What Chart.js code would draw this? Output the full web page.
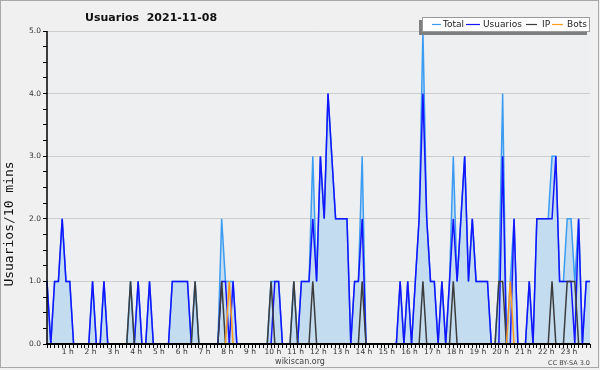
<!DOCTYPE html>
<html>
<head>
<meta charset="utf-8">
<script src="https://cdn.jsdelivr.net/npm/chart.js@4.4.0/dist/chart.umd.min.js"></script>
<style>
  body { margin: 0; background: #f0f0f0; }
  canvas { display: block; }
</style>
</head>
<body>
<canvas id="chart" width="600" height="370"></canvas>
<script>
// Hour tick labels (one category every 10 minutes, 144 per day)
const hourLabels = ["1 h", "2 h", "3 h", "4 h", "5 h", "6 h", "7 h", "8 h", "9 h", "10 h", "11 h", "12 h",
    "13 h", "14 h", "15 h", "16 h", "17 h", "18 h", "19 h", "20 h", "21 h", "22 h", "23 h"];
const minuteSlots = ["00", "10", "20", "30", "40", "50"];

// Values per 10 minutes, one row per hour
const total = [
    1, 0, 1, 1, 2, 1,   1, 0, 0, 0, 0, 0,   1, 0, 0, 1, 0, 0,   0, 0, 0, 0, 1, 0,
    1, 0, 0, 1, 0, 0,   0, 0, 0, 1, 1, 1,   1, 1, 0, 1, 0, 0,   0, 0, 0, 0, 2, 1,
    1, 1, 0, 0, 0, 0,   0, 0, 0, 0, 0, 1,   1, 1, 0, 0, 0, 1,   0, 1, 1, 1, 3, 1,
    3, 2, 4, 3, 2, 2,   2, 2, 0, 1, 1, 3,   0, 0, 0, 0, 0, 0,   0, 0, 0, 1, 0, 1,
    0, 1, 2, 5, 2, 1,   1, 0, 1, 0, 1, 3,   1, 2, 3, 1, 2, 1,   1, 1, 1, 0, 0, 1,
    4, 0, 1, 2, 0, 0,   0, 1, 0, 2, 2, 2,   2, 3, 3, 1, 1, 2,   2, 1, 2, 0, 1, 1
];
const usuarios = [
    1, 0, 1, 1, 2, 1,   1, 0, 0, 0, 0, 0,   1, 0, 0, 1, 0, 0,   0, 0, 0, 0, 0, 0,
    1, 0, 0, 1, 0, 0,   0, 0, 0, 1, 1, 1,   1, 1, 0, 0, 0, 0,   0, 0, 0, 0, 1, 1,
    0, 1, 0, 0, 0, 0,   0, 0, 0, 0, 0, 0,   1, 1, 0, 0, 0, 0,   0, 1, 1, 1, 2, 1,
    3, 2, 4, 3, 2, 2,   2, 2, 0, 1, 1, 2,   0, 0, 0, 0, 0, 0,   0, 0, 0, 1, 0, 1,
    0, 1, 2, 4, 2, 1,   1, 0, 1, 0, 1, 2,   1, 2, 3, 1, 2, 1,   1, 1, 1, 0, 0, 0,
    3, 0, 0, 2, 0, 0,   0, 1, 0, 2, 2, 2,   2, 2, 3, 1, 1, 1,   1, 0, 2, 0, 1, 1
];
const ip = [
    0, 0, 0, 0, 0, 0,   0, 0, 0, 0, 0, 0,   0, 0, 0, 0, 0, 0,   0, 0, 0, 0, 1, 0,
    0, 0, 0, 0, 0, 0,   0, 0, 0, 0, 0, 0,   0, 0, 0, 1, 0, 0,   0, 0, 0, 0, 1, 0,
    0, 0, 0, 0, 0, 0,   0, 0, 0, 0, 0, 1,   0, 0, 0, 0, 0, 1,   0, 0, 0, 0, 1, 0,
    0, 0, 0, 0, 0, 0,   0, 0, 0, 0, 0, 1,   0, 0, 0, 0, 0, 0,   0, 0, 0, 0, 0, 0,
    0, 0, 0, 1, 0, 0,   0, 0, 0, 0, 0, 1,   0, 0, 0, 0, 0, 0,   0, 0, 0, 0, 0, 1,
    1, 0, 0, 0, 0, 0,   0, 0, 0, 0, 0, 0,   0, 1, 0, 0, 0, 1,   1, 1, 0, 0, 0, 0
];
const bots = [
    0, 0, 0, 0, 0, 0,   0, 0, 0, 0, 0, 0,   0, 0, 0, 0, 0, 0,   0, 0, 0, 0, 0, 0,
    0, 0, 0, 0, 0, 0,   0, 0, 0, 0, 0, 0,   0, 0, 0, 0, 0, 0,   0, 0, 0, 0, 0, 0,
    1, 0, 0, 0, 0, 0,   0, 0, 0, 0, 0, 0,   0, 0, 0, 0, 0, 0,   0, 0, 0, 0, 0, 0,
    0, 0, 0, 0, 0, 0,   0, 0, 0, 0, 0, 0,   0, 0, 0, 0, 0, 0,   0, 0, 0, 0, 0, 0,
    0, 0, 0, 0, 0, 0,   0, 0, 0, 0, 0, 0,   0, 0, 0, 0, 0, 0,   0, 0, 0, 0, 0, 0,
    0, 0, 1, 0, 0, 0,   0, 0, 0, 0, 0, 0,   0, 0, 0, 0, 0, 0,   0, 0, 0, 0, 0, 0
];

const seriesNames = ["Total", "Usuarios", "IP", "Bots"];
const seriesColors = ["#3b9cf2", "#1414ff", "#3c3c3c", "#ff9a1c"];

// category for each 10 minute slot
const slots = [];
for (let h = 0; h < 24; h++) {
    minuteSlots.forEach(m => slots.push(h + ":" + m));
}

const FONT = "'DejaVu Sans', sans-serif";

// Background, axis lines and all the extra texts
const decorPlugin = {
    id: "decor",
    beforeDraw(chart) {
        const ctx = chart.ctx;
        const a = chart.chartArea;
        ctx.save();
        ctx.fillStyle = "#f0f0f0";
        ctx.fillRect(0, 0, chart.width, chart.height);
        ctx.fillStyle = "#edeff1";
        ctx.fillRect(a.left, a.top, a.right - a.left, a.bottom - a.top);
        ctx.restore();
    },
    afterDatasetsDraw(chart) {
        const ctx = chart.ctx;
        const a = chart.chartArea;
        ctx.save();
        ctx.strokeStyle = "#000";
        ctx.lineWidth = 1.5;
        ctx.beginPath();
        ctx.moveTo(a.left, a.top);
        ctx.lineTo(a.left, a.bottom);
        ctx.stroke();
        ctx.lineWidth = 2;
        ctx.beginPath();
        ctx.moveTo(a.left - 1, a.bottom);
        ctx.lineTo(a.right, a.bottom);
        ctx.stroke();
        ctx.restore();
    },
    afterDraw(chart) {
        const ctx = chart.ctx;
        ctx.save();

        // title
        ctx.fillStyle = "#111";
        ctx.font = "bold 11px " + FONT;
        ctx.textBaseline = "alphabetic";
        ctx.textAlign = "left";
        ctx.fillText("Usuarios  2021-11-08", 85, 21);

        // y axis title
        ctx.save();
        ctx.translate(10, 224);
        ctx.rotate(-Math.PI / 2);
        ctx.font = "13px 'DejaVu Sans Mono', monospace";
        ctx.textAlign = "center";
        ctx.textBaseline = "middle";
        ctx.fillStyle = "#111";
        ctx.fillText("Usuarios/10 mins", 0, 0);
        ctx.restore();

        // legend box with shadow
        ctx.fillStyle = "#7f7f7f";
        ctx.fillRect(419, 20, 168, 15);
        ctx.fillStyle = "#fff";
        ctx.fillRect(422, 17, 168, 15);
        ctx.strokeStyle = "#9a9a9a";
        ctx.lineWidth = 1;
        ctx.strokeRect(422.5, 17.5, 167, 14);

        const items = [
            { x1: 432, x2: 441, tx: 443 },
            { x1: 466, x2: 480, tx: 483 },
            { x1: 526, x2: 537, tx: 542 },
            { x1: 552, x2: 563, tx: 567 }
        ];
        ctx.font = "9px " + FONT;
        ctx.textBaseline = "middle";
        ctx.textAlign = "left";
        items.forEach((it, i) => {
            ctx.strokeStyle = seriesColors[i];
            ctx.lineWidth = 1.2;
            ctx.beginPath();
            ctx.moveTo(it.x1, 24.5);
            ctx.lineTo(it.x2, 24.5);
            ctx.stroke();
            ctx.fillStyle = "#222";
            ctx.fillText(seriesNames[i], it.tx, 25);
        });

        // footer
        ctx.fillStyle = "#444";
        ctx.font = "8px " + FONT;
        ctx.textAlign = "center";
        ctx.textBaseline = "alphabetic";
        ctx.fillText("wikiscan.org", 300, 364);
        ctx.font = "6.5px " + FONT;
        ctx.textAlign = "right";
        ctx.fillText("CC BY-SA 3.0", 590, 365);

        // outer frame
        ctx.strokeStyle = "#a8a8a8";
        ctx.lineWidth = 1;
        ctx.strokeRect(0.5, 0.5, 598, 367);
        ctx.restore();
    }
};

function lineSet(label, data, color, order, extra) {
    return Object.assign({
        label: label,
        data: data,
        borderColor: color,
        borderWidth: 1.5,
        pointRadius: 0,
        tension: 0,
        fill: false,
        order: order
    }, extra || {});
}

const ctx = document.getElementById("chart").getContext("2d");
new Chart(ctx, {
    type: "line",
    data: {
        labels: slots,
        datasets: [
            lineSet(seriesNames[0], total, seriesColors[0], 4, { fill: "origin", backgroundColor: "#c4dcf0" }),
            lineSet(seriesNames[1], usuarios, seriesColors[1], 3),
            lineSet(seriesNames[2], ip, seriesColors[2], 2),
            lineSet(seriesNames[3], bots, seriesColors[3], 1)
        ]
    },
    options: {
        responsive: false,
        animation: false,
        devicePixelRatio: 1,
        layout: { padding: { left: 0, right: 10, top: 31, bottom: 0 } },
        plugins: {
            legend: { display: false },
            title: { display: false },
            tooltip: { enabled: false }
        },
        scales: {
            x: {
                type: "category",
                offset: false,
                border: { display: false },
                grid: { drawOnChartArea: false, tickLength: 4, tickColor: "#000", tickWidth: 1 },
                ticks: {
                    autoSkip: false,
                    maxRotation: 0,
                    minRotation: 0,
                    padding: 0,
                    labelOffset: -2,
                    color: "#333",
                    font: { family: FONT, size: 7.5 },
                    callback: (val, idx) => (idx % 6 === 0 && idx > 0) ? hourLabels[idx / 6 - 1] : ""
                },
                afterFit: scale => { scale.height = 26; }
            },
            y: {
                min: 0,
                max: 5,
                border: { display: false },
                grid: {
                    color: c => (Number.isInteger(c.tick.value) && c.tick.value > 0) ? "#cdcdcd" : "rgba(0,0,0,0)",
                    tickColor: "#000",
                    tickLength: 4,
                    lineWidth: 1
                },
                ticks: {
                    stepSize: 0.25,
                    autoSkip: false,
                    padding: 2,
                    color: "#333",
                    font: { family: FONT, size: 7.5 },
                    callback: v => Number.isInteger(v) ? v.toFixed(1) : ""
                },
                afterFit: scale => { scale.width = 47; }
            }
        }
    },
    plugins: [decorPlugin]
});
</script>
</body>
</html>
